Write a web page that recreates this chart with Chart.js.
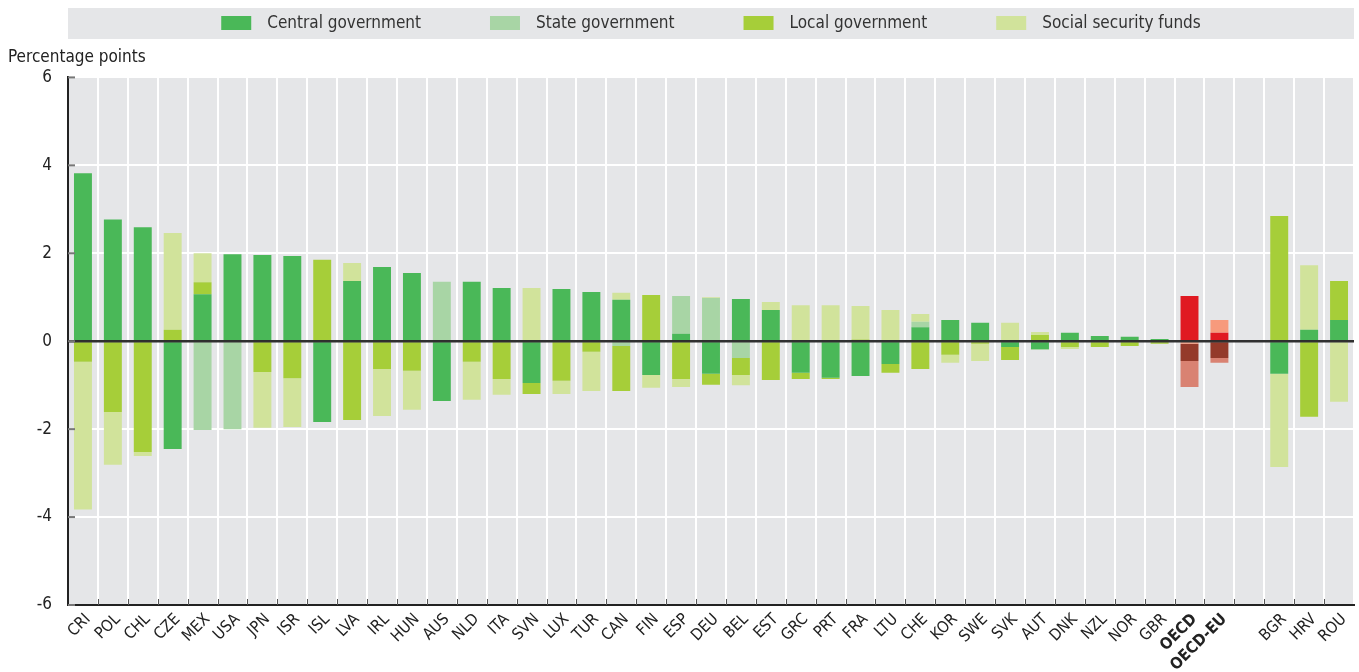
<!DOCTYPE html>
<html><head><meta charset="utf-8">
<script src="https://cdn.jsdelivr.net/npm/chart.js@4.4.1/dist/chart.umd.min.js"></script>
<style>html,body{margin:0;padding:0;background:#fff}#wrap{position:relative;width:1359px;height:672px}</style>
</head><body><div id="wrap"><canvas id="c"></canvas></div>
<script>
const categories = ['CRI','POL','CHL','CZE','MEX','USA','JPN','ISR','ISL','LVA','IRL','HUN','AUS','NLD','ITA','SVN','LUX','TUR','CAN','FIN','ESP','DEU','BEL','EST','GRC','PRT','FRA','LTU','CHE','KOR','SWE','SVK','AUT','DNK','NZL','NOR','GBR','OECD','OECD-EU','','BGR','HRV','ROU'];
const central = [3.82,2.77,2.59,-2.45,1.07,1.98,1.96,1.94,-1.84,1.37,1.69,1.55,-1.36,1.35,1.21,-0.95,1.19,1.12,0.94,-0.77,0.17,-0.74,0.96,0.71,-0.72,-0.83,-0.79,-0.52,0.32,0.48,0.42,-0.13,-0.18,0.19,0.12,0.10,0.05,1.03,0.19,null,-0.74,0.26,0.48];
const state = [null,null,null,null,-2.02,-2.00,null,null,null,null,null,null,1.35,null,null,null,null,null,-0.11,null,0.86,0.98,-0.38,null,null,null,null,null,0.12,null,null,null,-0.02,null,null,null,null,-0.06,0.29,null,null,null,null];
const local = [-0.47,-1.61,-2.52,0.26,0.27,null,-0.70,-0.84,1.85,-1.79,-0.63,-0.67,null,-0.47,-0.86,-0.25,-0.90,-0.24,-1.02,1.05,-0.86,-0.25,-0.39,-0.88,-0.14,-0.03,0.04,-0.20,-0.63,-0.31,-0.06,-0.30,0.14,-0.13,-0.13,-0.11,-0.06,-0.39,-0.38,null,2.85,-1.72,0.89];
const social = [-3.36,-1.20,-0.09,2.20,0.66,null,-1.27,-1.11,null,0.41,-1.07,-0.89,null,-0.86,-0.36,1.21,-0.30,-0.89,0.16,-0.29,-0.18,0.02,-0.23,0.18,0.82,0.82,0.76,0.71,0.18,-0.18,-0.39,0.42,0.07,-0.05,null,null,null,-0.59,-0.11,null,-2.12,1.47,-1.38];
const seriesNames = ['Central government','State government','Local government','Social security funds'];
const yTicks = [-6,-4,-2,0,2,4,6];

const FONT = '"Liberation Sans Narrow","Arial Narrow","DejaVu Sans Condensed",sans-serif';
const greens = ['#4ab858','#a8d5a5','#a6ce39','#d1e39b'];
const reds = ['#e01a22','#f79a7c','#943a2a','#d98272'];
const BG = '#e5e6e8';

function colorFor(i){
  return (ctx) => (categories[ctx.dataIndex] || '').startsWith('OECD') ? reds[i] : greens[i];
}
const seriesValues = [central, state, local, social];
const datasets = seriesValues.map((vals, i) => ({
  label: seriesNames[i],
  data: vals,
  backgroundColor: colorFor(i),
  legendColor: greens[i],
  borderWidth: 0,
  barPercentage: 0.6,
  categoryPercentage: 1.0
}));

const customPlugin = {
  id: 'custom',
  beforeDraw(chart){
    const {ctx, chartArea: a} = chart;
    ctx.save();
    ctx.fillStyle = BG;
    ctx.fillRect(a.left, 8, a.right - a.left, 31);
    ctx.fillRect(a.left, a.top, a.right - a.left, a.bottom - a.top);
    ctx.font = '17px ' + FONT;
    const items = chart.data.datasets.map(ds => ({label: ds.label, color: ds.legendColor, w: ctx.measureText(ds.label).width}));
    const box = 30, gap = 16, sp = 69;
    const total = items.reduce((s, it) => s + box + gap + it.w, 0) + sp * (items.length - 1);
    let x = (a.left + a.right) / 2 - total / 2;
    const cy = 23;
    items.forEach(it => {
      ctx.fillStyle = it.color;
      ctx.fillRect(x, cy - 7, box, 14);
      ctx.fillStyle = '#333';
      ctx.textBaseline = 'middle';
      ctx.textAlign = 'left';
      ctx.fillText(it.label, x + box + gap, cy + 1);
      x += box + gap + it.w + sp;
    });
    ctx.restore();
  },
  afterDatasetsDraw(chart){
    const {ctx, chartArea: a, scales} = chart;
    const y0 = scales.y.getPixelForValue(0);
    ctx.save();
    ctx.strokeStyle = 'rgba(25,25,25,0.9)';
    ctx.lineWidth = 2.5;
    ctx.beginPath(); ctx.moveTo(a.left, y0); ctx.lineTo(a.right, y0); ctx.stroke();
    ctx.strokeStyle = '#555';
    ctx.lineWidth = 1;
    const xs = scales.x;
    const half = (xs.getPixelForValue(1) - xs.getPixelForValue(0)) / 2;
    for (let i = 0; i < categories.length; i++) {
      const px = Math.round(xs.getPixelForValue(i) + half) + 0.5;
      if (px >= a.right) continue;
      ctx.beginPath(); ctx.moveTo(px, a.bottom); ctx.lineTo(px, a.bottom - 6); ctx.stroke();
    }
    ctx.strokeStyle = '#777';
    ctx.lineWidth = 2;
    yTicks.forEach(v => {
      const py = scales.y.getPixelForValue(v);
      ctx.beginPath(); ctx.moveTo(a.left, py); ctx.lineTo(a.left + 7, py); ctx.stroke();
    });
    ctx.restore();
  }
};

new Chart(document.getElementById('c'), {
  type: 'bar',
  data: { labels: categories, datasets },
  options: {
    responsive: true,
    maintainAspectRatio: false,
    animation: false,
    layout: { padding: { left: 8, right: 5, top: 0, bottom: 0 } },
    plugins: {
      legend: { display: false },
      tooltip: { enabled: false },
      title: {
        display: true,
        text: 'Percentage points',
        align: 'start',
        color: '#222',
        font: { family: FONT, size: 17, weight: 'normal' },
        padding: { top: 47, bottom: 10 }
      }
    },
    scales: {
      x: {
        stacked: true,
        offset: true,
        grid: { color: '#ffffff', lineWidth: 2, offset: true, drawTicks: false },
        border: { display: true, color: '#222', width: 2 },
        ticks: {
          autoSkip: false,
          minRotation: 45,
          maxRotation: 45,
          padding: 5,
          labelOffset: 5,
          color: '#222',
          font: (ctx) => ({ family: FONT, size: 16, weight: (categories[ctx.index] || '').startsWith('OECD') ? 'bold' : 'normal' })
        },
        afterFit(s){ s.height = 67; }
      },
      y: {
        stacked: true,
        min: -6, max: 6,
        afterBuildTicks(s){ s.ticks = yTicks.map(v => ({ value: v })); },
        grid: { color: '#ffffff', lineWidth: 2, drawTicks: false },
        border: { display: true, color: '#222', width: 2 },
        ticks: { padding: 16, color: '#222', font: { family: FONT, size: 17 } },
        afterFit(s){ s.width = 60; }
      }
    }
  },
  plugins: [customPlugin]
});
</script></body></html>
